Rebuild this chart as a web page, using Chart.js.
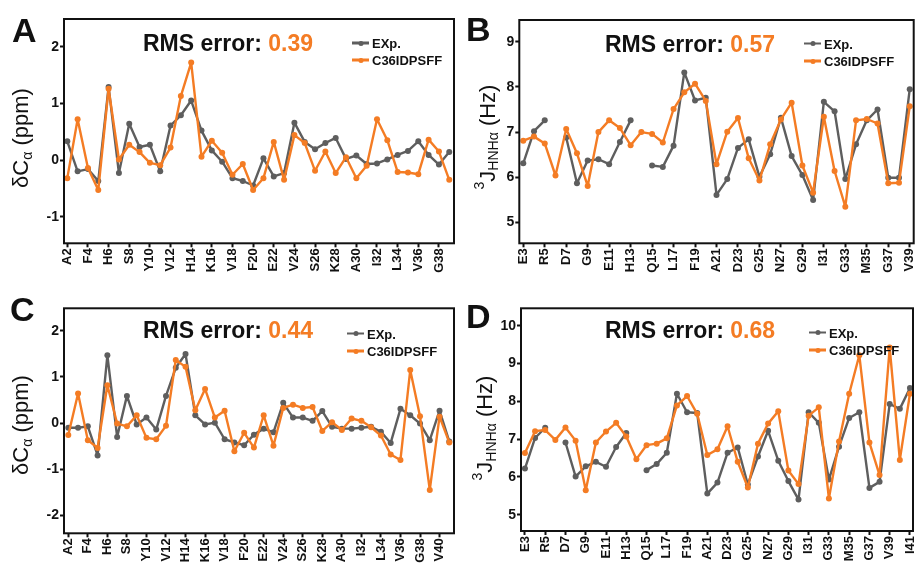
<!DOCTYPE html>
<html>
<head>
<meta charset="utf-8">
<script src="https://cdn.jsdelivr.net/npm/chart.js@4.4.1/dist/chart.umd.min.js"></script>
<style>
    html, body { margin: 0; padding: 0; background: #fff; }
    #figura { position: relative; width: 917px; height: 566px; overflow: hidden; font-family: 'Liberation Sans', Arial, sans-serif; color: #111; }
    canvas { position: absolute; }
    .letra { position: absolute; font-weight: bold; font-size: 34px; line-height: 1; }
    .titulo { position: absolute; font-weight: bold; font-size: 23px; line-height: 1; white-space: nowrap; transform: translateY(-50%); }
    .titulo span { color: #f47c24; }
    .item { position: absolute; font-weight: bold; font-size: 13px; line-height: 1; white-space: nowrap; transform: translateY(-50%); }
    .item i { display: inline-block; position: relative; width: 17px; height: 2.5px; vertical-align: middle; margin-right: 3px; margin-top: -2px; }
    .item i::after { content: ''; position: absolute; left: 50%; top: 50%; width: 5px; height: 5px; border-radius: 50%; background: inherit; transform: translate(-50%, -50%); }
</style>
</head>
<body>
<div id="figura">
    <canvas id="graficoA" width="460" height="290" style="left:0;top:0"></canvas>
    <canvas id="graficoB" width="457" height="290" style="left:460px;top:0"></canvas>
    <canvas id="graficoC" width="460" height="276" style="left:0;top:290px"></canvas>
    <canvas id="graficoD" width="457" height="276" style="left:460px;top:290px"></canvas>
</div>
<script>
const CINZA = '#5e5e5e';
const LARANJA = '#f47c24';

// A: delta C-alpha, residues 2..39
const expA = [0.33, -0.20, -0.16, -0.37, 1.29, -0.23, 0.64, 0.23, 0.27, -0.20, 0.61, 0.79, 1.05, 0.52, 0.17, -0.03, -0.32, -0.37, -0.45,
    0.03, -0.29, -0.23, 0.66, 0.32, 0.19, 0.30, 0.39, 0.02, 0.08, -0.07, -0.06, 0.01, 0.09, 0.16, 0.33, 0.09, -0.08, 0.14];
const simA = [-0.32, 0.72, -0.14, -0.53, 1.26, 0.01, 0.27, 0.14, -0.05, -0.09, 0.22, 1.13, 1.72, 0.06, 0.34, 0.13, -0.26, -0.07, -0.53,
    -0.32, 0.32, -0.35, 0.44, 0.30, -0.19, 0.15, -0.23, 0.05, -0.32, -0.10, 0.72, 0.35, -0.21, -0.22, -0.25, 0.36, 0.15, -0.35];

// B: 3J HNHa, residues 3..39
const expB = [6.31, 7.02, 7.26, null, 6.88, 5.87, 6.37, 6.40, 6.29, 6.78, 7.26, null, 6.26, 6.23, 6.70, 8.32, 7.70, 7.76,
    5.61, 5.96, 6.65, 6.84, 6.01, 6.51, 7.32, 6.47, 6.05, 5.50, 7.67, 7.46, 5.96, 6.73, 7.26, 7.50, 5.99, 5.99, 7.95];
const simB = [6.81, 6.90, 6.75, 6.04, 7.07, 6.53, 5.81, 7.00, 7.26, 7.09, 6.71, 7.00, 6.96, 6.77, 7.51, 7.88, 8.07, 7.69,
    6.29, 7.01, 7.31, 6.42, 5.93, 6.73, 7.28, 7.65, 6.26, 5.66, 7.34, 6.14, 5.35, 7.26, 7.29, 7.19, 5.87, 5.88, 7.57];

// C: delta C-alpha, residues 2..41
const expC = [-0.10, -0.10, -0.07, -0.70, 1.47, -0.30, 0.59, -0.03, 0.12, -0.14, 0.59, 1.20, 1.50, 0.17, -0.03, 0.01, -0.35, -0.42, -0.48,
    -0.25, -0.12, -0.20, 0.44, 0.12, 0.12, 0.05, 0.26, -0.08, -0.12, -0.12, -0.10, -0.08, -0.19, -0.43, 0.31, 0.17, -0.01, -0.37, 0.27, -0.40];
const simC = [-0.26, 0.64, -0.37, -0.54, 0.82, -0.01, -0.07, 0.17, -0.32, -0.35, -0.06, 1.37, 1.22, 0.28, 0.74, 0.12, 0.27, -0.61, -0.21,
    -0.53, 0.17, -0.49, 0.33, 0.40, 0.33, 0.35, -0.17, 0.02, -0.15, 0.10, 0.05, -0.09, -0.27, -0.68, -0.80, 1.15, 0.15, -1.45, 0.14, -0.42];

// D: 3J HNHa, residues 3..41
const expD = [6.22, 7.03, 7.30, null, 6.91, 6.01, 6.28, 6.40, 6.27, 6.79, 7.16, null, 6.18, 6.34, 6.64, 8.20, 7.71, 7.69,
    5.56, 5.85, 6.64, 6.78, 5.80, 6.54, 7.22, 6.43, 5.89, 5.40, 7.71, 7.43, 5.93, 6.80, 7.56, 7.71, 5.71, 5.87, 7.93, 7.80, 8.35];
const simD = [6.63, 7.21, 7.24, 6.98, 7.31, 6.96, 5.65, 6.91, 7.20, 7.43, 7.07, 6.47, 6.84, 6.88, 7.02, 7.89, 8.14, 7.67,
    6.58, 6.73, 7.34, 6.40, 5.72, 6.88, 7.41, 7.74, 6.17, 5.81, 7.62, 7.84, 5.43, 6.94, 8.20, 9.22, 6.91, 6.05, 9.42, 6.45, 8.20];

const ticksXAC = ['A2', 'F4', 'H6', 'S8', 'Y10', 'V12', 'H14', 'K16', 'V18', 'F20', 'E22', 'V24', 'S26', 'K28', 'A30', 'I32', 'L34', 'V36', 'G38', 'V40'];
const ticksXBD = ['E3', 'R5', 'D7', 'G9', 'E11', 'H13', 'Q15', 'L17', 'F19', 'A21', 'D23', 'G25', 'N27', 'G29', 'I31', 'G33', 'M35', 'G37', 'V39', 'I41'];
const ticksYA = [-1, 0, 1, 2];
const ticksYB = [5, 6, 7, 8, 9];
const ticksYC = [-2, -1, 0, 1, 2];
const ticksYD = [5, 6, 7, 8, 9, 10];
const rmsErros = ['0.39', '0.57', '0.44', '0.68'];

const rotuloDelta = [{ t: 'δC', tipo: 'n' }, { t: 'α', tipo: 'sub' }, { t: ' (ppm)', tipo: 'n' }];
const rotuloJ = [{ t: '3', tipo: 'sup' }, { t: 'J', tipo: 'n' }, { t: 'HNHα', tipo: 'sub' }, { t: ' (Hz)', tipo: 'n' }];

const paineis = [
    { id: 'graficoA', letra: 'A', inicio: 2, exp: expA, sim: simA, ticksX: ticksXAC.slice(0, 19), ticksY: ticksYA, rms: rmsErros[0],
      xMin: 1.68, xMax: 39.46, yMin: -1.47, yMax: 2.49, caixa: { w: 460, h: 290 }, area: { left: 64, top: 19, right: 454, bottom: 243.3 },
      rotulo: rotuloDelta, rotuloPos: [22, 138], posLetra: [12, 13], posTitulo: [143, 43], posLegenda: [352, 43, 60] },
    { id: 'graficoB', letra: 'B', inicio: 3, exp: expB, sim: simB, ticksX: ticksXBD.slice(0, 19), ticksY: ticksYB, rms: rmsErros[1],
      xMin: 2.63, xMax: 39.37, yMin: 4.54, yMax: 9.48, caixa: { w: 457, h: 290 }, area: { left: 59.3, top: 20, right: 453.7, bottom: 243.3 },
      rotulo: rotuloJ, rotuloPos: [28.5, 137], posLetra: [466, 12], posTitulo: [605, 43.5], posLegenda: [804, 43.5, 61] },
    { id: 'graficoC', letra: 'C', inicio: 2, exp: expC, sim: simC, ticksX: ticksXAC, ticksY: ticksYC, rms: rmsErros[2],
      xMin: 1.56, xMax: 41.48, yMin: -2.39, yMax: 2.49, caixa: { w: 460, h: 276 }, area: { left: 64, top: 18.3, right: 454, bottom: 243.3 },
      rotulo: rotuloDelta, rotuloPos: [22, 135], posLetra: [10, 292], posTitulo: [143, 330], posLegenda: [347, 333.5, 351] },
    { id: 'graficoD', letra: 'D', inicio: 3, exp: expD, sim: simD, ticksX: ticksXBD, ticksY: ticksYD, rms: rmsErros[3],
      xMin: 2.61, xMax: 41.3, yMin: 4.57, yMax: 10.46, caixa: { w: 457, h: 276 }, area: { left: 61, top: 18.3, right: 453, bottom: 241 },
      rotulo: rotuloJ, rotuloPos: [26, 138], posLetra: [466, 299], posTitulo: [605, 330], posLegenda: [809, 332.5, 350] }
];

const FONTE = "'Liberation Sans', Arial, sans-serif";

const moldura = {
    id: 'moldura',
    afterDatasetsDraw(chart) {
        const { ctx, chartArea: a } = chart;
        ctx.save();
        ctx.strokeStyle = '#111';
        ctx.lineWidth = 2;
        ctx.strokeRect(a.left, a.top, a.right - a.left, a.bottom - a.top);
        ctx.restore();
    }
};

// y axis title with sub/superscripts, drawn rotated
const rotuloY = {
    id: 'rotuloY',
    afterDraw(chart, args, opts) {
        const ctx = chart.ctx;
        const fonte = p => `${p.tipo === 'n' ? 22 : 14}px ${FONTE}`;
        ctx.save();
        ctx.translate(opts.x, opts.y);
        ctx.rotate(-Math.PI / 2);
        ctx.fillStyle = '#111';
        ctx.textBaseline = 'middle';
        let total = 0;
        opts.partes.forEach(p => { ctx.font = fonte(p); total += ctx.measureText(p.t).width; });
        let x = -total / 2;
        opts.partes.forEach(p => {
            ctx.font = fonte(p);
            const dy = p.tipo === 'sub' ? 6 : p.tipo === 'sup' ? -8 : 0;
            ctx.fillText(p.t, x, dy);
            x += ctx.measureText(p.t).width;
        });
        ctx.restore();
    }
};

function criarSobreposicoes(p) {
    const fig = document.getElementById('figura');
    fig.insertAdjacentHTML('beforeend', `
        <div class="letra" style="left:${p.posLetra[0]}px;top:${p.posLetra[1]}px">${p.letra}</div>
        <div class="titulo" style="left:${p.posTitulo[0]}px;top:${p.posTitulo[1]}px">RMS error: <span>${p.rms}</span></div>
        <div class="item" style="left:${p.posLegenda[0]}px;top:${p.posLegenda[1]}px"><i style="background:${CINZA}"></i>EXp.</div>
        <div class="item" style="left:${p.posLegenda[0]}px;top:${p.posLegenda[2]}px"><i style="background:${LARANJA}"></i>C36IDPSFF</div>
    `);
}

function criarGrafico(p) {
    const residuos = p.exp.map((_, i) => p.inicio + i);
    const nomes = {};
    p.ticksX.forEach(n => { nomes[parseInt(n.slice(1), 10)] = n; });

    const grade = { drawOnChartArea: false, drawTicks: true, tickLength: 4, tickWidth: 2, tickColor: '#111', color: '#111' };

    return new Chart(document.getElementById(p.id), {
        type: 'line',
        data: {
            labels: residuos,
            datasets: [
                { label: 'C36IDPSFF', data: p.sim, borderColor: LARANJA, backgroundColor: LARANJA, order: 0 },
                { label: 'EXp.', data: p.exp, borderColor: CINZA, backgroundColor: CINZA, order: 1 }
            ]
        },
        options: {
            responsive: false,
            animation: false,
            events: [],
            spanGaps: false,
            layout: { padding: { left: 0, top: p.area.top, right: p.caixa.w - p.area.right, bottom: 0 } },
            elements: {
                line: { borderWidth: 2.4, tension: 0, borderJoinStyle: 'round', borderCapStyle: 'round' },
                point: { radius: 3, borderWidth: 0, hoverRadius: 3 }
            },
            plugins: {
                legend: { display: false },
                tooltip: { enabled: false },
                rotuloY: { partes: p.rotulo, x: p.rotuloPos[0], y: p.rotuloPos[1] }
            },
            scales: {
                x: {
                    type: 'linear',
                    min: p.xMin,
                    max: p.xMax,
                    afterBuildTicks: s => { s.ticks = p.ticksX.map(n => ({ value: parseInt(n.slice(1), 10) })); },
                    afterFit: s => { s.height = p.caixa.h - p.area.bottom; s.paddingLeft = 0; s.paddingRight = 0; },
                    ticks: {
                        autoSkip: false, minRotation: 90, maxRotation: 90, padding: 1, color: '#111',
                        font: { family: FONTE, size: 13, weight: 'bold' },
                        callback: v => nomes[v] || ''
                    },
                    grid: grade,
                    border: { display: false }
                },
                y: {
                    min: p.yMin,
                    max: p.yMax,
                    afterBuildTicks: s => { s.ticks = p.ticksY.map(v => ({ value: v })); },
                    afterFit: s => { s.width = p.area.left; s.paddingTop = 0; s.paddingBottom = 0; },
                    ticks: { padding: 1, color: '#111', font: { family: FONTE, size: 14, weight: 'bold' } },
                    grid: grade,
                    border: { display: false }
                }
            }
        },
        plugins: [moldura, rotuloY]
    });
}

paineis.forEach(p => {
    criarGrafico(p);
    criarSobreposicoes(p);
});
</script>
</body>
</html>
